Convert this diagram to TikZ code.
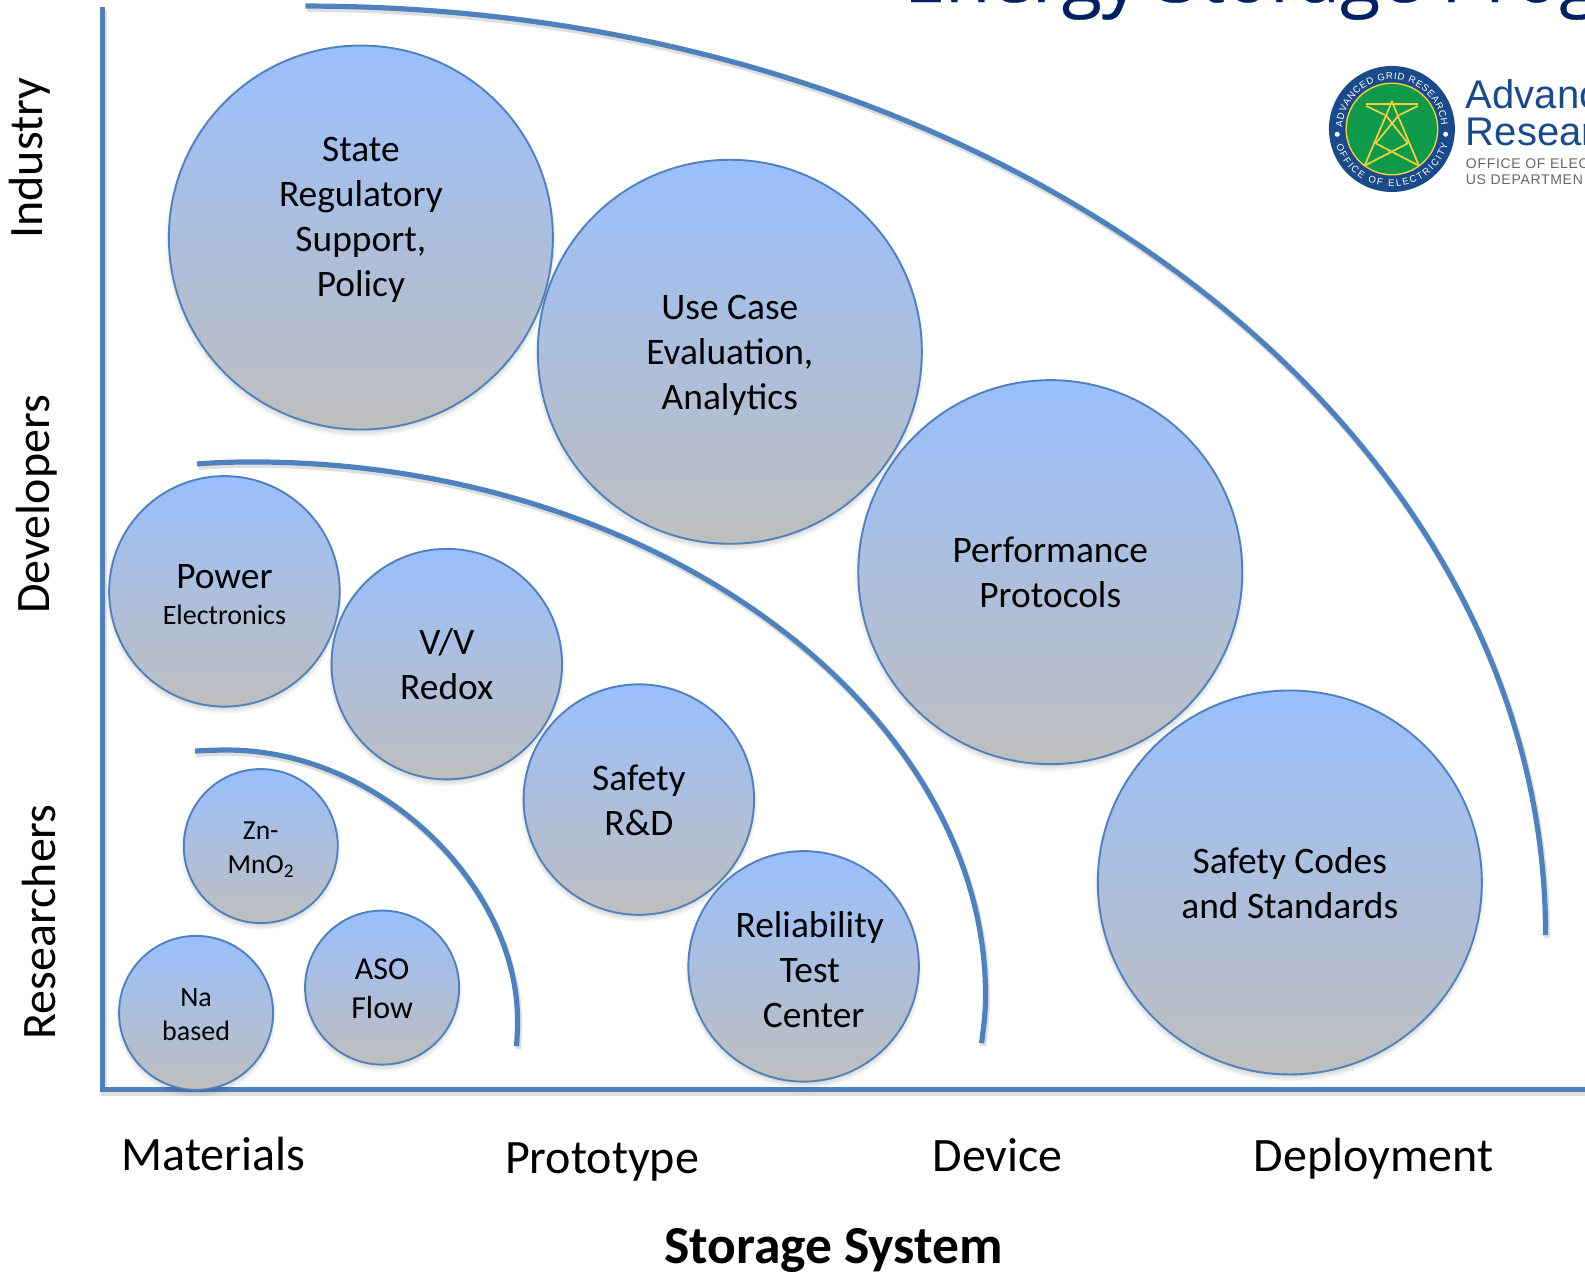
\documentclass[tikz,border=0pt]{standalone}
\usepackage{fontspec}
\setmainfont{Carlito}
\newfontfamily\titlefont[FakeBold=0.4]{Open Sans}
\newfontfamily\logofamily{Liberation Sans}
\newfontfamily\logospaced[LetterSpace=5]{Liberation Sans}
\usetikzlibrary{decorations.text}
\definecolor{axisblue}{HTML}{4F81BD}
\definecolor{bubbletop}{HTML}{9ABFFD}
\definecolor{bubblebot}{HTML}{BEBEBE}
\definecolor{titlenavy}{HTML}{002060}
\definecolor{logoblue}{HTML}{1B4A8A}
\definecolor{logogreen}{HTML}{0E9A48}
\definecolor{logoyellow}{HTML}{F5D040}
\definecolor{logogray}{HTML}{666666}
\newcommand\ringfont{\logofamily\fontsize{9.6}{10}\selectfont\color{white}}
\tikzset{
  bubblebox/.style={circle,draw=axisblue,line width=1.9pt,top color=bubbletop,bottom color=bubblebot,inner sep=0pt,outer sep=0pt},
  bigb/.style={bubblebox,minimum size=384pt},
  midb/.style={bubblebox,minimum size=230.5pt},
  smallb/.style={bubblebox,minimum size=154pt},
  lblbig/.style={align=center,inner sep=0pt,font=\fontsize{37.4}{45}\selectfont},
  lblna/.style={align=center,inner sep=0pt,font=\fontsize{28}{34}\selectfont},
  lblaso/.style={align=center,inner sep=0pt,font=\fontsize{32}{39}\selectfont},
  lblzn/.style={align=center,inner sep=0pt,font=\fontsize{27.5}{34}\selectfont},
  axislbl/.style={inner sep=0pt,anchor=base,font=\fontsize{48}{52}\selectfont},
  softline/.style={preaction={draw=black,draw opacity=.13,line width=6pt,transform canvas={shift={(1.5pt,-3pt)}}}},
  frameline/.style={softline,draw=axisblue,line width=5pt},
  arcline/.style={softline,draw=axisblue,line width=5.2pt},
  softshadow/.style={fill=black,opacity=.035},
  towerline/.style={draw=logoyellow,line width=1.7pt},
  logotext/.style={inner sep=0pt,anchor=base west,text=logoblue,font=\logofamily\fontsize{40}{40}\selectfont},
  logosmall/.style={inner sep=0pt,anchor=base west,text=logogray,font=\logospaced\fontsize{14}{14}\selectfont},
}
\newcommand\softdisc[3]{%
  \foreach \k in {-3,-1.5,0,1.5,3}{\path[softshadow] (#1,#2+4) circle[radius=#3+\k];}}
\begin{document}
\begin{tikzpicture}[x=1.01084pt,y=-1.01084pt]
\useasboundingbox (0,0) rectangle (1568,1261.35);
\clip (0,0) rectangle (1568,1261.35);
% title
\node[inner sep=0pt,anchor=base west,text=titlenavy,font=\titlefont\fontsize{74}{74}\selectfont] (title) at (894,2) {Energy Storage Prog};
% axes
\coordinate (top) at (101.5,7);
\coordinate (orig) at (101.5,1078);
\coordinate (right) at (1568,1078);
\draw[frameline] (top) -- (orig) -- (right);
% arcs
\coordinate (oa) at (302,6);
\coordinate (ob) at (1529,925);
\coordinate (ma) at (195,459);
\coordinate (mb) at (971,1032);
\coordinate (ia) at (193,743);
\coordinate (ib) at (511,1035);
\draw[arcline] (oa) .. controls (990,6) and (1529,420) .. (ob);
\draw[arcline] (ma) .. controls (213,457.5) and (232,457) .. (250,457) .. controls (649,457) and (975,702) .. (975,985) .. controls (975,1001) and (973,1017) .. (mb);
\draw[arcline] (ia) .. controls (204,742.3) and (214,742) .. (225,742) .. controls (375,742) and (512,875) .. (512,1010) .. controls (512,1018) and (511.5,1027) .. (ib);
% bubbles
\softdisc{357}{235}{190}\node[bigb] (state) at (357,235) {};
\softdisc{722}{348}{190}\node[bigb] (usecase) at (722,348) {};
\softdisc{1039}{566}{190}\node[bigb] (perf) at (1039,566) {};
\softdisc{1276}{873}{190}\node[bigb] (codes) at (1276,873) {};
\softdisc{222}{585}{114}\node[midb] (power) at (222,585) {};
\softdisc{442}{657}{114}\node[midb] (vv) at (442,657) {};
\softdisc{632}{791}{114}\node[midb] (safety) at (632,791) {};
\softdisc{795}{956}{114}\node[midb] (rel) at (795,956) {};
\softdisc{258}{837}{76}\node[smallb] (zn) at (258,837) {};
\softdisc{378}{977}{76}\node[smallb] (aso) at (378,977) {};
\softdisc{194}{1002}{76}\node[smallb] (na) at (194,1002) {};
% bubble labels
\node[lblbig] (statet) at (357,217.5) {State\\Regulatory\\Support,\\Policy};
\node[lblbig] (usecaset) at (722,351.5) {Use Case\\Evaluation,\\Analytics};
\node[lblbig] (perft) at (1039,566.5) {Performance\\Protocols};
\node[lblbig] (codest) at (1276,874) {Safety Codes\\and Standards};
\node[lblbig] (powert) at (222,570.5) {Power};
\node[inner sep=0pt,font=\fontsize{28}{32}\selectfont] (powert2) at (222,608.5) {Electronics};
\node[lblbig] (vvt) at (442,657.5) {V/V\\Redox};
\node[lblbig] (safetyt) at (632,792) {Safety\\R\&D};
\node[lblbig] (relt) at (801,959) {Reliability\\Test\\\hspace{8pt}Center};
\node[lblzn] (znt) at (258,841) {Zn-\\MnO\textsubscript{2}};
\node[lblaso] (asot) at (378,978) {ASO\\Flow};
\node[lblna] (nat) at (194,1004) {Na\\based};
% axis labels
\node[axislbl,rotate=90] (ind) at (42.5,156.5) {Industry};
\node[axislbl,rotate=90] (dev) at (48.5,499) {Developers};
\node[axislbl,rotate=90] (res) at (54.5,912) {Researchers};
\node[axislbl] (mat) at (211,1157.5) {Materials};
\node[axislbl] (pro) at (595.5,1161) {Prototype};
\node[axislbl] (devc) at (987,1158.5) {Device};
\node[axislbl] (depl) at (1359,1158.5) {Deployment};
\node[inner sep=0pt,anchor=base,font=\bfseries\fontsize{53.5}{56}\selectfont] (sys) at (824.5,1250) {Storage System};
% logo
\begin{scope}[shift={(1377,127.6)},x=1pt,y=1pt]
  \coordinate (logoc) at (0,0);
  \fill[logoblue] (logoc) circle[radius=63];
  \fill[logoyellow] (logoc) circle[radius=46.5];
  \fill[logogreen] (logoc) circle[radius=45];
  \fill[white] (-54.7,-5.3) circle[radius=2.5] (53.7,-5.3) circle[radius=2.5];
  \path[decorate,decoration={text along path,text={|\ringfont|ADVANCED GRID RESEARCH},text align=fit to path}] (178:49.5) arc[start angle=178,end angle=4,radius=49.5];
  \path[decorate,decoration={text along path,text={|\ringfont|OFFICE OF ELECTRICITY},text align=fit to path}] (196:58) arc[start angle=196,end angle=345,radius=58];
  \draw[towerline,line width=2.4pt] (-25.7,25) -- (26,25);
  \draw[towerline] (-27.3,-36.7) -- (0,27.3) -- (27,-36.7);
  \draw[towerline] (-25.7,23) -- (-7,14) (26,23) -- (7.5,14);
  \draw[towerline] (-6.3,14) -- (16,-14.3) (7,14) -- (-16.3,-14.3);
  \draw[towerline] (-16.3,-14.3) -- (27,-36.7) (16,-14.3) -- (-27.3,-36.7);
\end{scope}
\node[logotext] (lg1) at (1450,107.3) {Advanc};
\node[logotext] (lg2) at (1450,143.5) {Resear};
\node[logosmall] (lg3) at (1450,166.5) {OFFICE OF ELEC};
\node[logosmall] (lg4) at (1450,183) {US DEPARTMEN};
\end{tikzpicture}
\end{document}
